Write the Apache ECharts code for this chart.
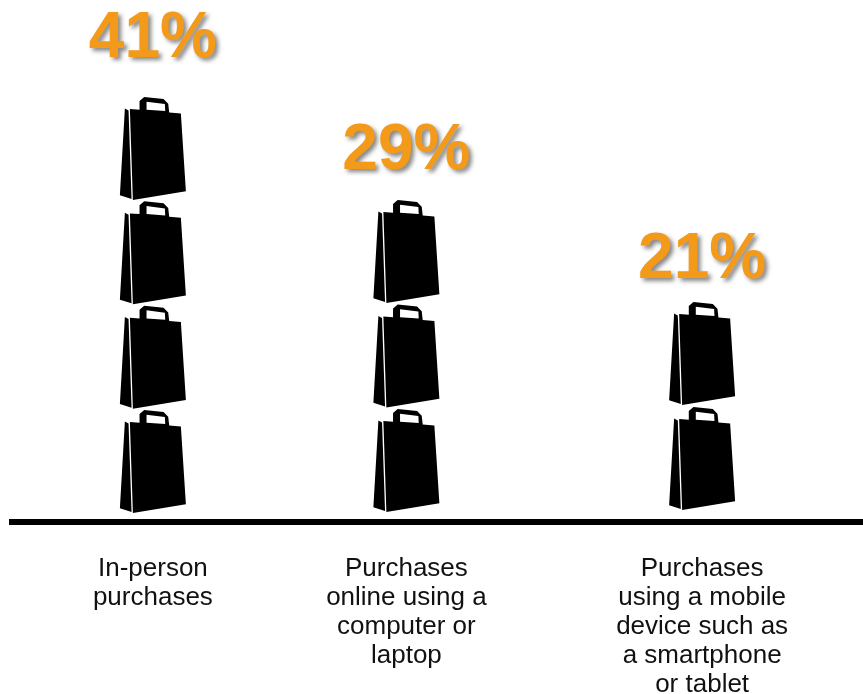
<!DOCTYPE html>
<html>
<head>
<meta charset="utf-8">
<style>html,body{margin:0;padding:0;background:#fff}#chart{width:863px;height:694px}</style>
<script src="https://cdn.jsdelivr.net/npm/echarts@6/dist/echarts.min.js"></script>
</head>
<body>
<div id="chart"></div>
<script>
// Share of purchases by channel, one bag per ten points
const categories = ['In-person\npurchases', 'Purchases\nonline using a\ncomputer or\nlaptop', 'Purchases\nusing a mobile\ndevice such as\na smartphone\nor tablet'];
const shares = [41, 29, 21];
const pointsPerBag = 10;

// Horizontal slots on the category axis, lift of each percentage label, nudge of each stack
const slotOfCategory = [3, 9, 16];
const slotCount = 20;
const labelLift = [-15, -17, -2];
const stackNudge = [0, -1, -3];

const bagPath = 'path://M72 58 L83 64 L92 328 L57 317 Z M87 60 L116 62 L116 36 L130 24 L188 30 L202 44 L205 70 L240 73 L255 305 L96 331 Z M137 62 L193 66 L192 45 L137 38 Z';

const slots = Array.from({length: slotCount}, () => '');
const barData = Array.from({length: slotCount}, () => '-');
slotOfCategory.forEach((slot, i) => {
  const bags = Math.round(shares[i] / pointsPerBag);
  slots[slot] = categories[i];
  barData[slot] = {
    value: shares[i],
    symbolRepeat: bags,
    symbolBoundingData: bags * pointsPerBag,
    symbolOffset: [0, stackNudge[i]],
    label: {offset: [0, labelLift[i]]}
  };
});

const chart = echarts.init(document.getElementById('chart'), null, {renderer: 'canvas'});
chart.setOption({
  backgroundColor: '#ffffff',
  animation: false,
  grid: {left: 5, top: 45, width: 845, height: 468, outerBoundsMode: 'none'},
  xAxis: {
    type: 'category',
    data: slots,
    axisLine: {show: false},
    axisTick: {show: false},
    axisLabel: {
      interval: 0,
      margin: 41,
      fontFamily: '"Liberation Sans", Arial, sans-serif',
      fontSize: 26,
      lineHeight: 29,
      color: '#111111',
      align: 'center',
      hideOverlap: false
    }
  },
  yAxis: {type: 'value', min: 0, max: 45, show: false},
  series: [{
    type: 'pictorialBar',
    data: barData,
    symbol: bagPath,
    symbolSize: [66, 103],
    symbolPosition: 'start',
    barWidth: 66,
    itemStyle: {color: '#000000'},
    label: {
      show: true,
      position: 'top',
      distance: 0,
      formatter: p => p.value + '%',
      fontFamily: '"Liberation Sans", Arial, sans-serif',
      fontWeight: 'bold',
      fontSize: 64,
      color: '#F39A1A',
      textShadowColor: 'rgba(70,70,70,0.65)',
      textShadowBlur: 4,
      textShadowOffsetX: 3,
      textShadowOffsetY: 3
    }
  }],
  graphic: [{
    type: 'rect',
    shape: {x: 9, y: 519, width: 854, height: 6},
    style: {fill: '#000000'},
    silent: true
  }]
});
</script>
</body>
</html>
